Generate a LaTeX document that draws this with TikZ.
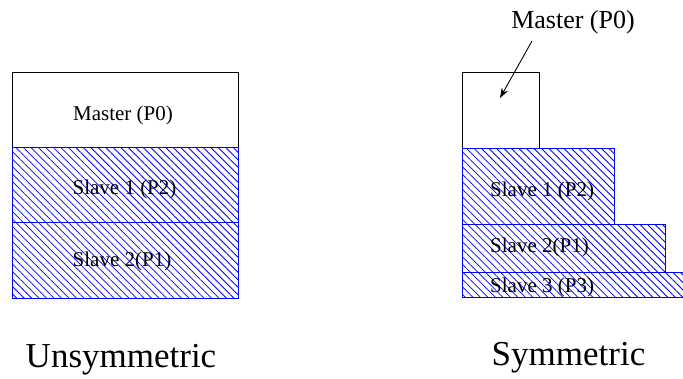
\documentclass[tikz,border=0pt]{standalone}
\usepackage{fontspec}
\setmainfont{Liberation Serif}
\usetikzlibrary{patterns.meta,arrows.meta}
\tikzset{
  plainbox/.style={draw=black, line width=1pt, inner sep=0pt, anchor=north west},
  hatchbox/.style={draw=blue, line width=1.3pt, inner sep=0pt, anchor=north west,
    pattern={Lines[angle=-45,distance=5.3pt,line width=0.8pt]}, pattern color=blue},
  lbl/.style={font=\fontsize{21}{25}\selectfont, inner sep=0pt},
  big/.style={font=\fontsize{35}{40}\selectfont, inner sep=0pt, anchor=base},
  arr/.style={-{Stealth[length=10pt,width=7pt]}, line width=0.9pt}
}
\begin{document}
\begin{tikzpicture}[x=1pt,y=-1pt]
\clip (0,0) rectangle (683,379);
\useasboundingbox (0,0) rectangle (683,379);
% Unsymmetric
\node[plainbox, minimum width=226pt, minimum height=75pt] (lm) at (12,72) {};
\node[hatchbox, minimum width=226pt, minimum height=75pt] (ls1) at (12,147) {};
\node[hatchbox, minimum width=226pt, minimum height=76pt] (ls2) at (12,222) {};
\node[lbl, anchor=base] (lmt) at (123,121) {Master (P0)};
\node[lbl, anchor=base] (ls1t) at (124.5,195) {Slave 1 (P2)};
\node[lbl, anchor=base] (ls2t) at (122,267) {Slave 2(P1)};
\node[big] (un) at (121,368) {Unsymmetric};
% Symmetric
\node[plainbox, minimum width=77pt, minimum height=76pt] (rm) at (462,72) {};
\node[hatchbox, minimum width=152pt, minimum height=76pt] (rs1) at (462,148) {};
\node[hatchbox, minimum width=203pt, minimum height=48pt] (rs2) at (462,224) {};
\node[hatchbox, minimum width=240pt, minimum height=25pt] (rs3) at (462,272) {};
\node[lbl, anchor=base west] (rs1t) at (490,197) {Slave 1 (P2)};
\node[lbl, anchor=base west] (rs2t) at (490,253) {Slave 2(P1)};
\node[lbl, anchor=base west] (rs3t) at (490,293) {Slave 3 (P3)};
\node[font=\fontsize{26}{30}\selectfont, inner sep=0pt, anchor=base] (rmt) at (573,29) {Master (P0)};
\coordinate (as) at (532,41);
\coordinate (ae) at (500,98);
\draw[arr] (as) -- (ae);
\node[big] (sy) at (568.5,366) {Symmetric};
\end{tikzpicture}
\end{document}
